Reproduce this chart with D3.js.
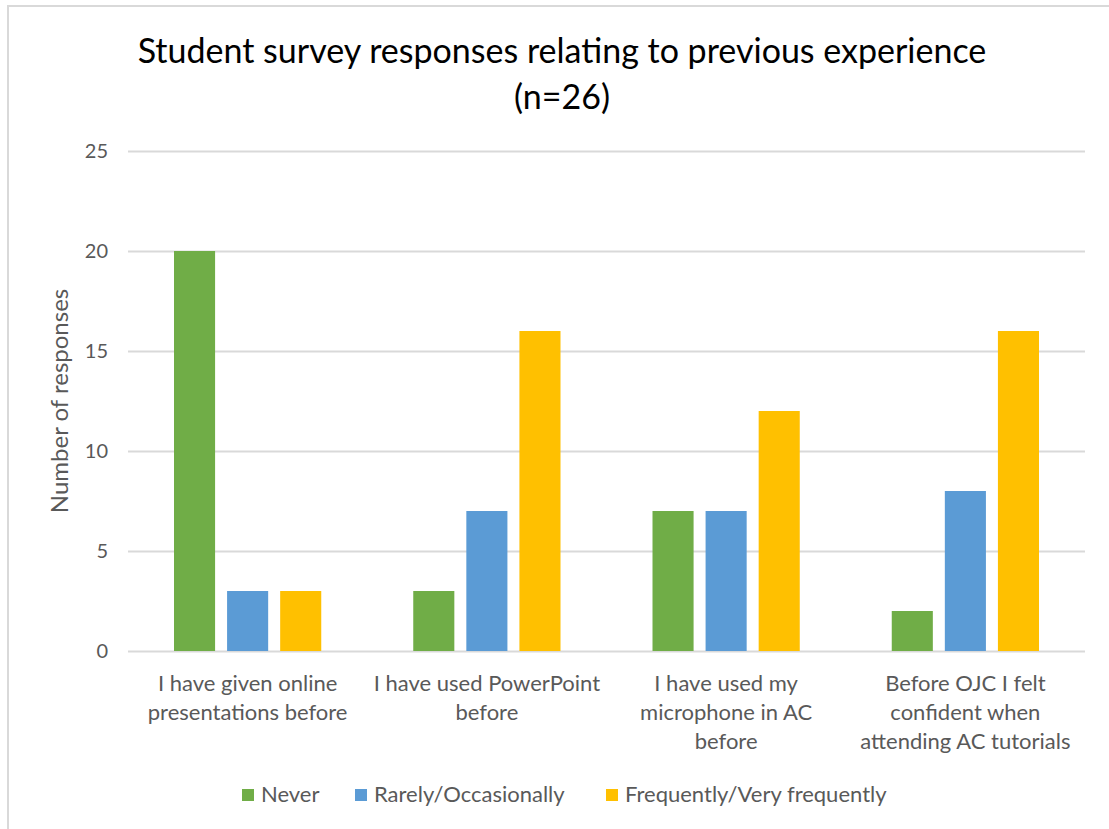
<!DOCTYPE html>
<html>
<head>
<meta charset="utf-8">
<script src="https://cdnjs.cloudflare.com/ajax/libs/d3/7.8.5/d3.min.js"></script>
<style>
  html, body { margin: 0; padding: 0; background: #fff; }
  svg { display: block; font-family: Lato, "Open Sans", sans-serif; }
</style>
</head>
<body>
<svg id="chart" width="1109" height="829"></svg>
<script>
// Survey questions (x categories), each wrapped onto lines as shown under the axis
const categories = [
  ["I have given online", "presentations before"],
  ["I have used PowerPoint", "before"],
  ["I have used my", "microphone in AC", "before"],
  ["Before OJC I felt", "confident when", "attending AC tutorials"]
];
const seriesNames = ["Never", "Rarely/Occasionally", "Frequently/Very frequently"];
const never = [20, 3, 7, 2];
const rarely = [3, 7, 7, 8];
const frequently = [3, 16, 12, 16];
const yTicks = [0, 5, 10, 15, 20, 25];
const colors = ["#70AD47", "#5B9BD5", "#FFC000"];

const seriesValues = [never, rarely, frequently];
const svg = d3.select("#chart");

// frame
svg.append("path")
  .attr("d", "M8,829 L8,6 L1109,6")
  .attr("fill", "none").attr("stroke", "#d9d9d9").attr("stroke-width", 2);

const plot = { left: 128, right: 1085, top: 151, bottom: 651 };

const x0 = d3.scaleBand()
  .domain(d3.range(categories.length))
  .range([plot.left, plot.right])
  .paddingInner(0).paddingOuter(0);
const x1 = d3.scaleBand()
  .domain(d3.range(seriesNames.length))
  .range([46, x0.bandwidth() - 46])
  .paddingInner(0.226).paddingOuter(0);
const y = d3.scaleLinear().domain([0, 25]).range([plot.bottom, plot.top]);

// gridlines
svg.append("g")
  .attr("transform", `translate(${plot.left},0)`)
  .call(d3.axisLeft(y).tickValues(yTicks).tickSize(-(plot.right - plot.left)).tickFormat(""))
  .call(g => g.select(".domain").remove())
  .call(g => g.selectAll("line").attr("stroke", "#d9d9d9").attr("stroke-width", 2));

// y tick labels
svg.append("g")
  .attr("transform", `translate(${plot.left},0)`)
  .call(d3.axisLeft(y).tickValues(yTicks).tickSize(0).tickPadding(20))
  .call(g => g.select(".domain").remove())
  .call(g => g.selectAll("text")
    .attr("fill", "#595959").attr("font-size", 20)
    .attr("font-family", "Lato, sans-serif"));

// bars
const groups = svg.append("g").selectAll("g")
  .data(categories.map((c, i) => i))
  .join("g")
  .attr("transform", i => `translate(${x0(i)},0)`);
groups.selectAll("rect")
  .data(i => seriesValues.map((vals, s) => ({ s, v: vals[i] })))
  .join("rect")
  .attr("x", d => x1(d.s))
  .attr("width", x1.bandwidth())
  .attr("y", d => y(d.v))
  .attr("height", d => y(0) - y(d.v))
  .attr("fill", d => colors[d.s]);

// x category labels
const xl = svg.append("g").selectAll("text")
  .data(categories)
  .join("text")
  .attr("text-anchor", "middle")
  .attr("fill", "#595959")
  .attr("font-size", 22);
xl.each(function(lines, i) {
  d3.select(this).selectAll("tspan")
    .data(lines)
    .join("tspan")
    .attr("x", x0(i) + x0.bandwidth() / 2)
    .attr("y", (d, k) => 691 + k * 29)
    .text(d => d);
});

// y axis title
svg.append("text")
  .attr("transform", `translate(68,${(plot.top + plot.bottom) / 2}) rotate(-90)`)
  .attr("text-anchor", "middle")
  .attr("fill", "#595959")
  .attr("font-size", 24)
  .text("Number of responses");

// title
const title = svg.append("text")
  .attr("text-anchor", "middle")
  .attr("fill", "#000")
  .attr("font-size", 34);
title.append("tspan").attr("x", 562).attr("y", 63)
  .text("Student survey responses relating to previous experience");
title.append("tspan").attr("x", 562).attr("y", 109).text("(n=26)");

// legend
const legendItems = [
  { name: seriesNames[0], x: 242 },
  { name: seriesNames[1], x: 355 },
  { name: seriesNames[2], x: 606 }
];
const lg = svg.append("g").selectAll("g")
  .data(legendItems)
  .join("g")
  .attr("transform", d => `translate(${d.x},789)`);
lg.append("rect").attr("width", 12).attr("height", 12)
  .attr("fill", (d, i) => colors[i]);
lg.append("text").attr("x", 19).attr("y", 13)
  .attr("fill", "#595959").attr("font-size", 22)
  .text(d => d.name);
</script>
</body>
</html>
